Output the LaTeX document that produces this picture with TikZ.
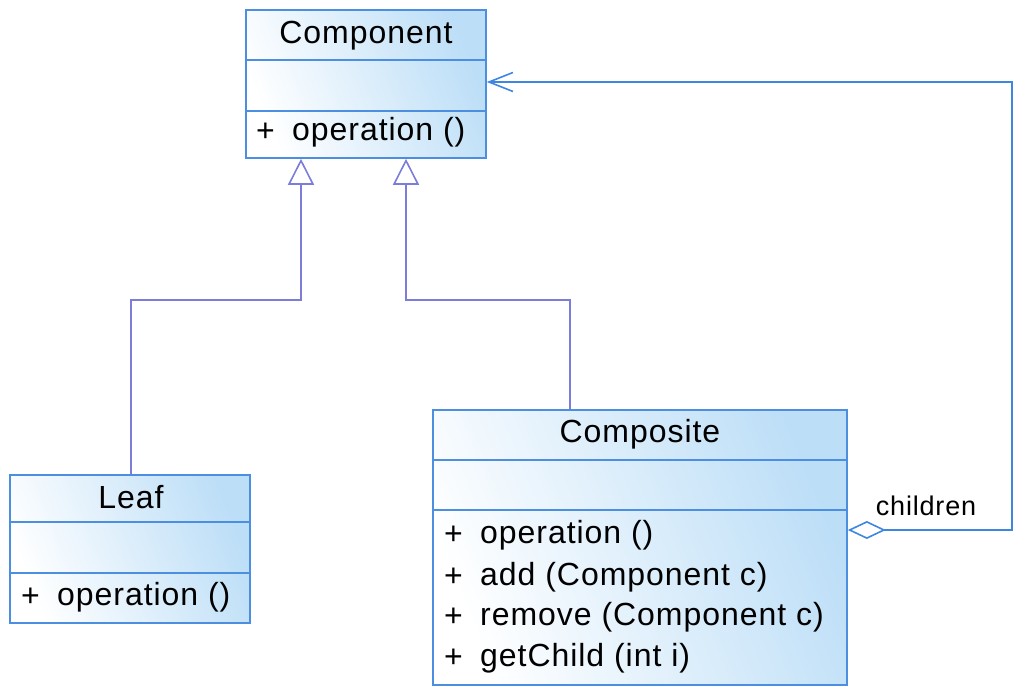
\documentclass[tikz,border=0pt]{standalone}
\usepackage{fontspec}
\setmainfont{Liberation Sans}[LetterSpace=3]
\usetikzlibrary{arrows.meta,calc}

\definecolor{boxline}{HTML}{4C8EE0}
\definecolor{boxfill}{HTML}{BCDEF7}
\definecolor{genline}{HTML}{7C7CDA}
\definecolor{aggline}{HTML}{3F86E0}

\tikzset{
  classbox/.style={draw=boxline, line width=1.6pt, rectangle, inner sep=0pt,
    left color=white, right color=boxfill, shading angle=112},
  divider/.style={draw=boxline, line width=1.6pt},
  cname/.style={font=\fontsize{32}{37}\selectfont, anchor=center, inner sep=0pt},
  member/.style={font=\fontsize{32}{37}\selectfont, anchor=west, inner sep=0pt},
  lbl/.style={font=\fontsize{27}{32}\selectfont, inner sep=0pt},
  generalization/.style={draw=genline, line width=1.6pt,
    -{Triangle[open, length=26pt, width=26pt, line width=1.6pt]}},
  aggregation/.style={draw=aggline, line width=1.6pt,
    {Diamond[open, length=38pt, width=18pt, line width=1.6pt]}-{Straight Barb[length=24pt, width=19pt, line width=1.6pt]}},
}

\begin{document}
\begin{tikzpicture}[x=1pt, y=-1pt]
  \useasboundingbox (0,0) rectangle (1030,700);

  % Component
  \node[classbox, minimum width=240pt, minimum height=148pt] (comp) at (366,84) {};
  \draw[divider] (246,60) -- (486,60);
  \draw[divider] (246,111) -- (486,111);
  \node[cname] (compname) at (366,36) {Component};
  \node[member] (compplus) at (256,132) {+};
  \node[member] (compop) at (292,132) {operation ()};

  % Leaf
  \node[classbox, minimum width=240pt, minimum height=148pt] (leaf) at (130,549) {};
  \draw[divider] (10,522) -- (250,522);
  \draw[divider] (10,573) -- (250,573);
  \node[cname] (leafname) at (131,497) {Leaf};
  \node[member] (leafplus) at (21,597) {+};
  \node[member] (leafop) at (57,597) {operation ()};

  % Composite
  \node[classbox, minimum width=414pt, minimum height=275pt] (compo) at (640,547.5) {};
  \draw[divider] (433,460) -- (847,460);
  \draw[divider] (433,510) -- (847,510);
  \node[cname] (componame) at (640,434) {Composite};
  \node[member] (plus1) at (444,535) {+};
  \node[member] (op1) at (480,535) {operation ()};
  \node[member] (plus2) at (444,577) {+};
  \node[member] (op2) at (480,577) {add (Component c)};
  \node[member] (plus3) at (444,617) {+};
  \node[member] (op3) at (480,617) {remove (Component c)};
  \node[member] (plus4) at (444,658) {+};
  \node[member] (op4) at (480,658) {getChild (int i)};

  % Generalizations
  \coordinate (leafbend) at (301,300);
  \coordinate (compobend) at (406,300);
  \draw[generalization] ($(leaf.north)+(1,0)$) |- (leafbend) -- (leafbend |- comp.south);
  \draw[generalization] ($(compo.north west)+(138,0)$) |- (compobend) -- (compobend |- comp.south);

  % Aggregation of children
  \coordinate (aggcorner) at (1012,530);
  \draw[aggregation] (compo.east |- aggcorner) -- (aggcorner) |- ($(comp.east)+(0,-2)$);
  \node[lbl] (children) at (926,506) {children};
\end{tikzpicture}
\end{document}
